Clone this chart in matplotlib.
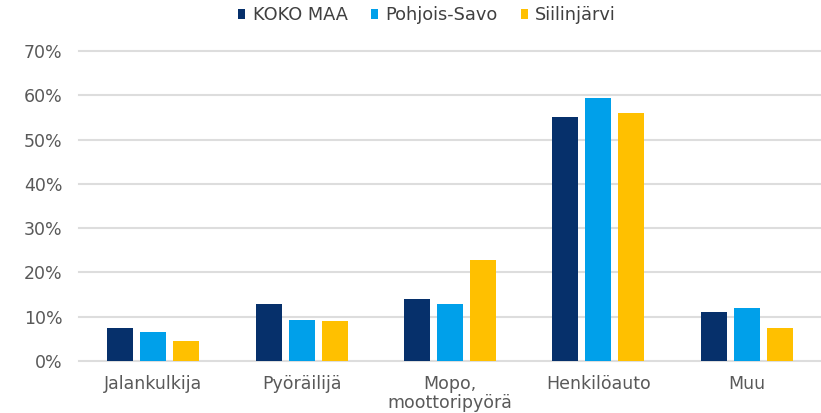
import matplotlib
matplotlib.use("Agg")
import matplotlib.pyplot as plt
import numpy as np
from matplotlib.ticker import FuncFormatter

plt.rcParams['font.family'] = ['DejaVu Sans']

categories = ["Jalankulkija", "Pyöräilijä", "Mopo,\nmoottoripyörä", "Henkilöauto", "Muu"]
series_names = ["KOKO MAA", "Pohjois-Savo", "Siilinjärvi"]
koko_maa = [7.5, 12.8, 13.9, 55.0, 11.0]
pohjois_savo = [6.6, 9.3, 12.8, 59.4, 12.0]
siilinjarvi = [4.5, 9.0, 22.7, 56.1, 7.5]
yticks = [0, 10, 20, 30, 40, 50, 60, 70]
colors = ["#06306B", "#00A0EA", "#FFC000"]

fig = plt.figure(figsize=(8.21, 4.13), dpi=100)
ax = fig.add_axes([0.0962, 0.126, 0.9038, 0.7505])

x = np.arange(len(categories))
width = 0.175
step = 0.222
for i, (vals, name, c) in enumerate(zip([koko_maa, pohjois_savo, siilinjarvi], series_names, colors)):
    ax.bar(x + (i - 1) * step, vals, width, color=c, label=name, zorder=3)

ax.set_xlim(-0.5, len(categories) - 0.5)
ax.set_ylim(0, 70)
ax.set_yticks(yticks)
ax.yaxis.set_major_formatter(FuncFormatter(lambda v, p: f"{int(v)}%"))
ax.set_xticks(x)
ax.set_xticklabels(categories, linespacing=1.05)
ax.grid(axis="y", color="#DDDDDD", linewidth=1.5, zorder=0)
for gl in ax.yaxis.get_gridlines():
    gl.set_clip_on(False)
for s in ax.spines.values():
    s.set_visible(False)
ax.tick_params(axis="both", length=0, colors="#595959", labelsize=12.5)
ax.tick_params(axis="y", pad=12)
ax.tick_params(axis="x", pad=10)

leg = fig.legend(loc="center", bbox_to_anchor=(0.52, 0.963), ncol=3, frameon=False,
                 prop={"family": "DejaVu Sans", "size": 12.8},
                 handlelength=0.42, handleheight=0.42, handletextpad=0.4, columnspacing=1.3)
for t in leg.get_texts():
    t.set_color("#404040")

fig.savefig("out.png", dpi=100)
